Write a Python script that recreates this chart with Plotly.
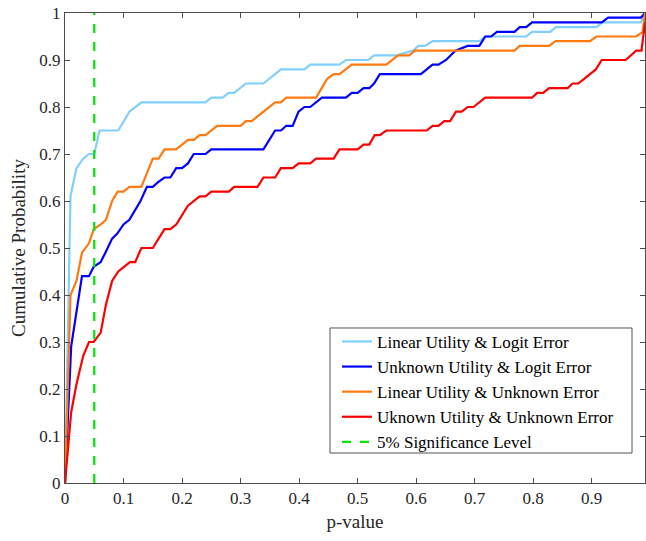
import plotly.graph_objects as go

# Linear Utility & Logit Error
lin_logit_x = [0, 0.0094, 0.0196, 0.031, 0.041, 0.050, 0.059, 0.091, 0.110, 0.1305, 0.24, 0.25, 0.269, 0.28, 0.289,
               0.309, 0.339, 0.369, 0.409, 0.419, 0.469, 0.48, 0.518, 0.528, 0.567, 0.595, 0.604, 0.615, 0.628,
               0.708, 0.718, 0.788, 0.798, 0.829, 0.839, 0.908, 0.918, 0.984, 0.991]
lin_logit_y = [0, 0.61, 0.67, 0.69, 0.70, 0.70, 0.75, 0.75, 0.79, 0.81, 0.81, 0.82, 0.82, 0.83, 0.83,
               0.85, 0.85, 0.88, 0.88, 0.89, 0.89, 0.90, 0.90, 0.91, 0.91, 0.92, 0.93, 0.93, 0.94,
               0.94, 0.95, 0.95, 0.96, 0.96, 0.97, 0.97, 0.98, 0.98, 1.0]

# Unknown Utility & Logit Error
unk_logit_x = [0, 0.0105, 0.029, 0.041, 0.049, 0.061, 0.069, 0.0805, 0.089, 0.100, 0.110, 0.129, 0.140, 0.150,
               0.159, 0.170, 0.180, 0.19, 0.2, 0.21, 0.22, 0.24, 0.25, 0.339, 0.359, 0.369, 0.378, 0.389, 0.399,
               0.409, 0.419, 0.439, 0.48, 0.49, 0.5, 0.51, 0.52, 0.528, 0.538, 0.608, 0.628, 0.638, 0.651,
               0.667, 0.688, 0.708, 0.718, 0.728, 0.738, 0.768, 0.777, 0.788, 0.798, 0.917, 0.928, 0.984, 0.991]
unk_logit_y = [0, 0.29, 0.44, 0.44, 0.46, 0.47, 0.49, 0.52, 0.53, 0.55, 0.56, 0.60, 0.63, 0.63,
               0.64, 0.65, 0.65, 0.67, 0.67, 0.68, 0.70, 0.70, 0.71, 0.71, 0.75, 0.75, 0.76, 0.76, 0.79,
               0.80, 0.80, 0.82, 0.82, 0.83, 0.83, 0.84, 0.84, 0.85, 0.87, 0.87, 0.89, 0.89, 0.90,
               0.92, 0.93, 0.93, 0.95, 0.95, 0.96, 0.96, 0.97, 0.97, 0.98, 0.98, 0.99, 0.99, 1.0]

# Linear Utility & Unknown Error
lin_unk_x = [0, 0.0094, 0.0196, 0.029, 0.041, 0.049, 0.061, 0.070, 0.0805, 0.09, 0.100, 0.11, 0.1305, 0.15, 0.16,
             0.17, 0.19, 0.2, 0.21, 0.22, 0.23, 0.24, 0.26, 0.30, 0.309, 0.319, 0.339, 0.359, 0.369, 0.378,
             0.429, 0.448, 0.459, 0.469, 0.49, 0.549, 0.569, 0.588, 0.598, 0.768, 0.777, 0.827, 0.838, 0.897,
             0.908, 0.976, 0.987, 0.991]
lin_unk_y = [0, 0.40, 0.43, 0.49, 0.51, 0.54, 0.55, 0.56, 0.60, 0.62, 0.62, 0.63, 0.63, 0.69, 0.69,
             0.71, 0.71, 0.72, 0.73, 0.73, 0.74, 0.74, 0.76, 0.76, 0.77, 0.77, 0.79, 0.81, 0.81, 0.82,
             0.82, 0.86, 0.87, 0.87, 0.89, 0.89, 0.91, 0.91, 0.92, 0.92, 0.93, 0.93, 0.94, 0.94,
             0.95, 0.95, 0.96, 1.0]

# Uknown Utility & Unknown Error
unk_unk_x = [0, 0.0105, 0.0196, 0.031, 0.041, 0.049, 0.061, 0.070, 0.0805, 0.091, 0.111, 0.12, 0.1305, 0.15,
             0.17, 0.18, 0.19, 0.21, 0.23, 0.24, 0.25, 0.28, 0.289, 0.329, 0.339, 0.359, 0.369, 0.389, 0.399,
             0.419, 0.429, 0.459, 0.469, 0.5, 0.51, 0.52, 0.529, 0.538, 0.549, 0.618, 0.628, 0.638, 0.648,
             0.658, 0.668, 0.678, 0.688, 0.698, 0.718, 0.798, 0.807, 0.817, 0.827, 0.859, 0.867, 0.877, 0.887,
             0.907, 0.917, 0.958, 0.976, 0.985, 0.991]
unk_unk_y = [0, 0.15, 0.21, 0.27, 0.30, 0.30, 0.32, 0.38, 0.43, 0.45, 0.47, 0.47, 0.50, 0.50,
             0.54, 0.54, 0.55, 0.59, 0.61, 0.61, 0.62, 0.62, 0.63, 0.63, 0.65, 0.65, 0.67, 0.67, 0.68,
             0.68, 0.69, 0.69, 0.71, 0.71, 0.72, 0.72, 0.74, 0.74, 0.75, 0.75, 0.76, 0.76, 0.77,
             0.77, 0.79, 0.79, 0.80, 0.80, 0.82, 0.82, 0.83, 0.83, 0.84, 0.84, 0.85, 0.85, 0.86,
             0.88, 0.90, 0.90, 0.92, 0.92, 0.98]

sig_level = 0.05
x_ticks = [0, 0.1, 0.2, 0.3, 0.4, 0.5, 0.6, 0.7, 0.8, 0.9]
y_ticks = [0, 0.1, 0.2, 0.3, 0.4, 0.5, 0.6, 0.7, 0.8, 0.9, 1]

FONT = "'Liberation Serif', 'Times New Roman', Times, serif"
fig = go.Figure()
series = [
    ("Linear Utility & Logit Error", lin_logit_x, lin_logit_y, "#80CFFF"),
    ("Unknown Utility & Logit Error", unk_logit_x, unk_logit_y, "#0000FF"),
    ("Linear Utility & Unknown Error", lin_unk_x, lin_unk_y, "#FF7A10"),
    ("Uknown Utility & Unknown Error", unk_unk_x, unk_unk_y, "#FF0000"),
]
for i, (name, xs, ys, c) in enumerate(series):
    fig.add_trace(go.Scatter(x=xs, y=ys, mode="lines", name=name, legendgroup=f"g{i}",
                             line=dict(color=c, width=2.2)))
fig.add_trace(go.Scatter(x=[sig_level, sig_level], y=[0, 1], mode="lines",
                         name="5% Significance Level", legendgroup="g5",
                         line=dict(color="#00E600", width=2.2, dash="dash")))

axis_common = dict(showline=True, linecolor="#4d4d4d", linewidth=1, mirror="ticks",
                   ticks="inside", ticklen=5, tickcolor="#4d4d4d", showgrid=False,
                   zeroline=False, automargin=False, ticklabeloverflow="allow",
                   tickfont=dict(family=FONT, size=17, color="#262626"))
fig.update_xaxes(range=[0, 0.991], tickvals=x_ticks, ticktext=[f"{v:g}" for v in x_ticks],
                 title=dict(text="p-value", font=dict(family=FONT, size=19, color="#262626"), standoff=7),
                 **axis_common)
fig.update_yaxes(range=[0, 1], tickvals=y_ticks, ticktext=[f"{v:g}" for v in y_ticks],
                 title=dict(text="Cumulative Probability", font=dict(family=FONT, size=19, color="#262626"), standoff=8),
                 **axis_common)
fig.update_layout(
    width=646, height=541,
    margin=dict(l=65, r=1, t=13, b=58),
    plot_bgcolor="white", paper_bgcolor="white",
    font=dict(family=FONT),
    legend=dict(x=0.469, y=0.3385, xanchor="left", yanchor="top",
                borderwidth=0, bgcolor="rgba(0,0,0,0)",
                font=dict(family=FONT, size=17, color="#000000"),
                tracegroupgap=0, itemwidth=30),
    shapes=[dict(type="rect", xref="paper", yref="paper",
                 x0=0.4569, x1=0.9776, y0=0.0638, y1=0.3298,
                 line=dict(color="#555555", width=1), fillcolor="white", layer="below")],
    showlegend=True,
)
fig.write_html("out.html", config={"displayModeBar": False},
               post_script="document.body.style.margin='0';document.body.style.overflow='hidden';")
